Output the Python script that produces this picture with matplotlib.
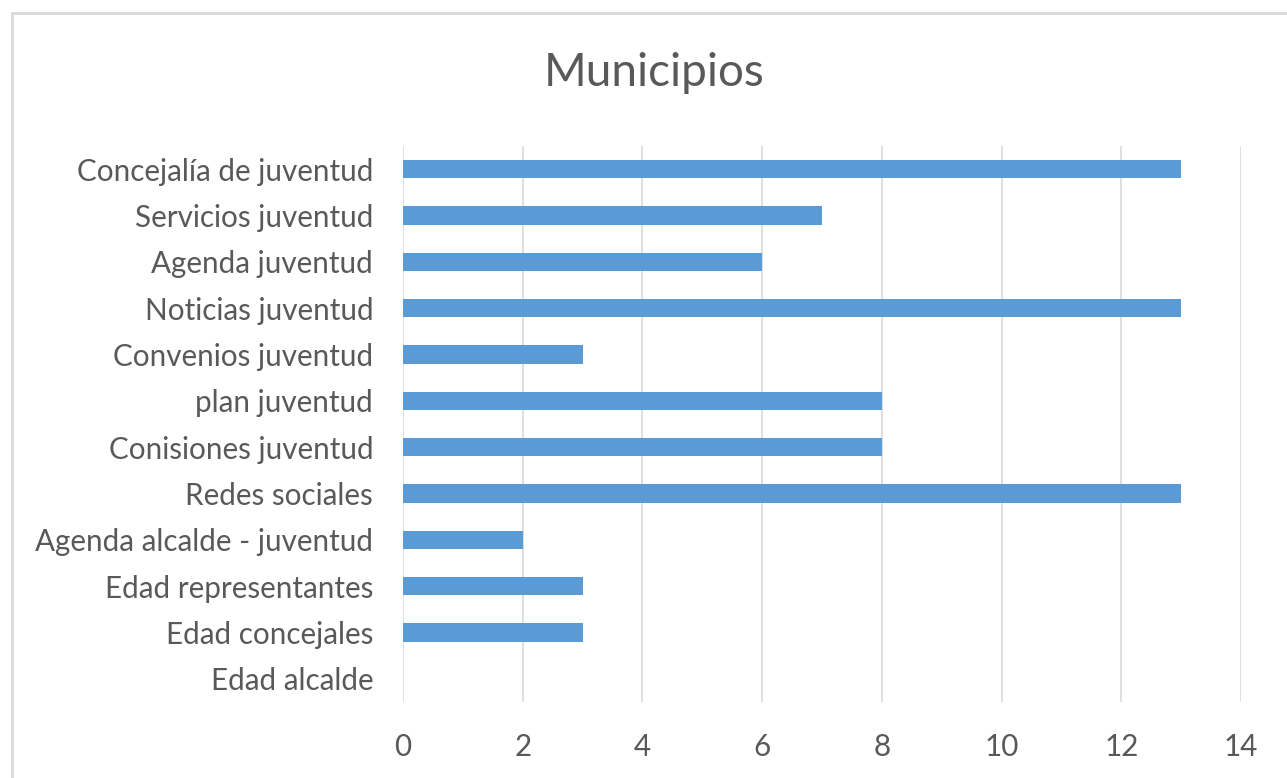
import matplotlib
matplotlib.use("Agg")
import matplotlib.pyplot as plt
from matplotlib.patches import Rectangle

categories = [
    "Concejalía de juventud",
    "Servicios juventud",
    "Agenda juventud",
    "Noticias juventud",
    "Convenios juventud",
    "plan juventud",
    "Conisiones juventud",
    "Redes sociales",
    "Agenda alcalde - juventud",
    "Edad representantes",
    "Edad concejales",
    "Edad alcalde",
]
values = [13, 7, 6, 13, 3, 8, 8, 13, 2, 3, 3, 0]
x_ticks = [0, 2, 4, 6, 8, 10, 12, 14]

plt.rcParams['font.family'] = ['Lato', 'DejaVu Sans']
text_color = '#595959'

fig = plt.figure(figsize=(12.87, 7.78), dpi=100)
ax = fig.add_axes([403 / 1287, 76 / 778, 838 / 1287, 556 / 778])

# outer chart border (right/bottom edges run off the image)
fig.patches.append(Rectangle((12 / 1287, -0.05), 1.1, (778 - 13) / 778 + 0.05,
                             transform=fig.transFigure, fill=False,
                             edgecolor='#d9d9d9', linewidth=2))

y_pos = list(range(len(categories)))
ax.barh(y_pos, values, height=0.39, color='#5b9bd5', zorder=3)

ax.set_ylim(len(categories) - 0.5, -0.5)
ax.set_xlim(0, 14)
ax.set_yticks(y_pos)
ax.set_yticklabels(categories, fontsize=21.3, color=text_color)
ax.set_xticks(x_ticks)
ax.set_xticklabels([str(t) for t in x_ticks], fontsize=21.3, color=text_color)
ax.tick_params(axis='both', length=0)
ax.tick_params(axis='y', pad=21.5)
ax.tick_params(axis='x', pad=22)

ax.grid(axis='x', color='#d9d9d9', linewidth=1.2, zorder=0)
for s in ax.spines.values():
    s.set_visible(False)

fig.text(654 / 1287, 1 - 73 / 778, "Municipios", ha='center', va='center',
         fontsize=33, color=text_color)

fig.savefig("out.png", dpi=100)
